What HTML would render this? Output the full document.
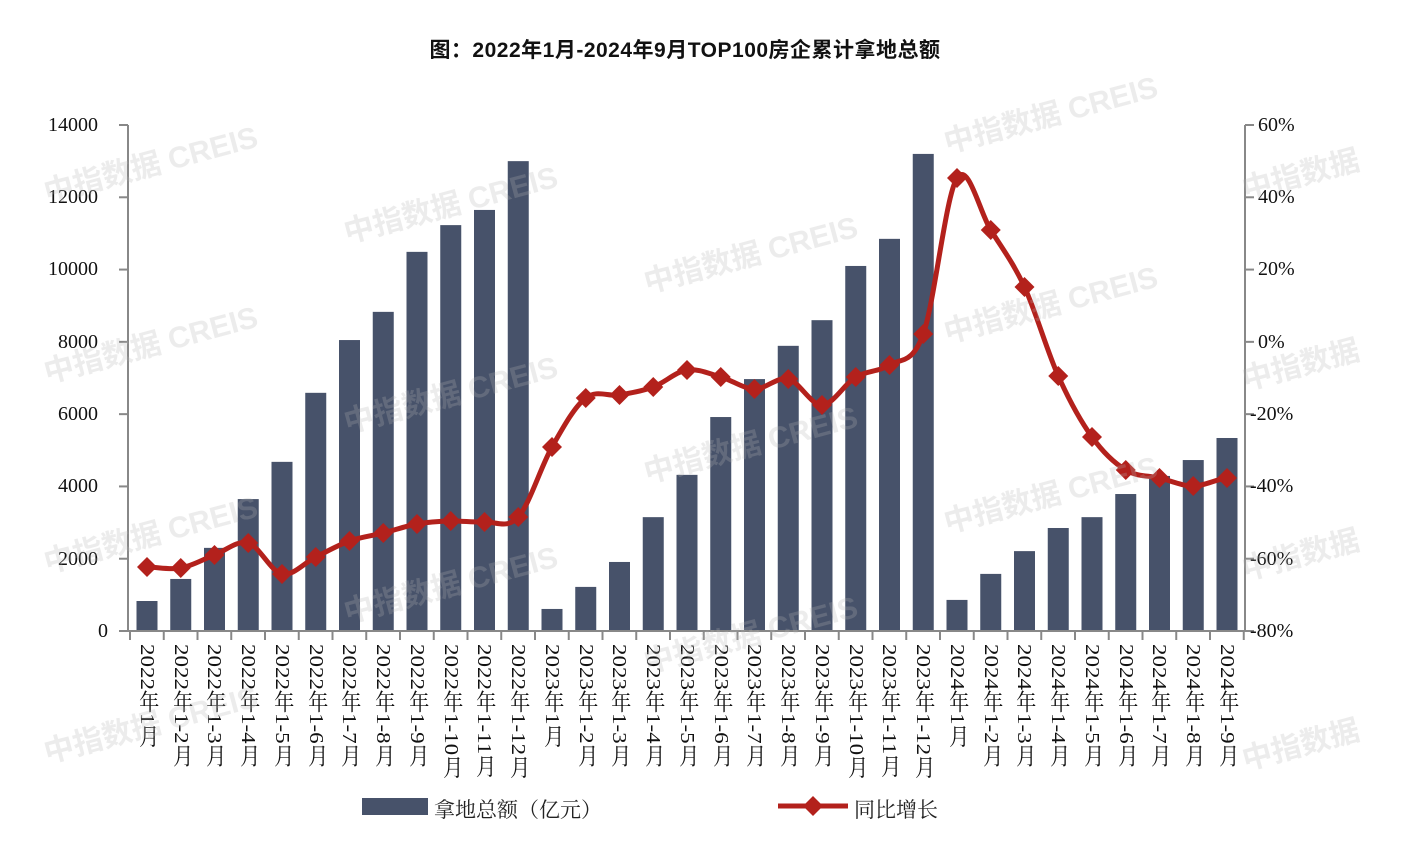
<!DOCTYPE html>
<html><head><meta charset="utf-8"><style>
body{margin:0;background:#fff;width:1418px;height:842px;position:relative;overflow:hidden;font-family:"Liberation Serif","Noto Serif CJK SC",serif}
.t{position:absolute;top:34px;left:0;width:1370px;text-align:center;font:bold 21px "Liberation Sans","Noto Sans CJK SC",sans-serif;color:#111;letter-spacing:0.5px}
.xl{position:absolute;top:644px;writing-mode:vertical-rl;font-size:23px;line-height:22px;color:#111;width:22px;transform:scaleX(0.88);transform-origin:center top;white-space:nowrap}
.yl{position:absolute;font-size:20px;color:#111;line-height:20px}
.wm{position:absolute;font:bold 30px "Liberation Sans","Noto Sans CJK SC",sans-serif;color:rgba(180,180,180,0.25);transform:rotate(-15deg);white-space:nowrap}
.lg{position:absolute;top:794px;font-size:21px;font-family:"Liberation Serif","Noto Serif CJK SC",serif;color:#222}
</style></head><body>
<div class="t">图：2022年1月-2024年9月TOP100房企累计拿地总额</div>
<svg id="s" width="1418" height="842" style="position:absolute;left:0;top:0"></svg>
<div class="yl" style="left:48px;top:115px">14000</div>
<div class="yl" style="left:48px;top:187px">12000</div>
<div class="yl" style="left:48px;top:259px">10000</div>
<div class="yl" style="left:58px;top:332px">8000</div>
<div class="yl" style="left:58px;top:404px">6000</div>
<div class="yl" style="left:58px;top:476px">4000</div>
<div class="yl" style="left:58px;top:549px">2000</div>
<div class="yl" style="left:98px;top:621px">0</div>
<div class="yl" style="left:1258px;top:115px">60%</div>
<div class="yl" style="left:1258px;top:187px">40%</div>
<div class="yl" style="left:1258px;top:259px">20%</div>
<div class="yl" style="left:1258px;top:332px">0%</div>
<div class="yl" style="left:1250px;top:404px">-20%</div>
<div class="yl" style="left:1250px;top:476px">-40%</div>
<div class="yl" style="left:1250px;top:549px">-60%</div>
<div class="yl" style="left:1250px;top:621px">-80%</div>
<div class="xl" style="left:136px">2022年1月</div>
<div class="xl" style="left:170px">2022年1-2月</div>
<div class="xl" style="left:203px">2022年1-3月</div>
<div class="xl" style="left:237px">2022年1-4月</div>
<div class="xl" style="left:271px">2022年1-5月</div>
<div class="xl" style="left:305px">2022年1-6月</div>
<div class="xl" style="left:338px">2022年1-7月</div>
<div class="xl" style="left:372px">2022年1-8月</div>
<div class="xl" style="left:406px">2022年1-9月</div>
<div class="xl" style="left:440px">2022年1-10月</div>
<div class="xl" style="left:473px">2022年1-11月</div>
<div class="xl" style="left:507px">2022年1-12月</div>
<div class="xl" style="left:541px">2023年1月</div>
<div class="xl" style="left:575px">2023年1-2月</div>
<div class="xl" style="left:608px">2023年1-3月</div>
<div class="xl" style="left:642px">2023年1-4月</div>
<div class="xl" style="left:676px">2023年1-5月</div>
<div class="xl" style="left:710px">2023年1-6月</div>
<div class="xl" style="left:743px">2023年1-7月</div>
<div class="xl" style="left:777px">2023年1-8月</div>
<div class="xl" style="left:811px">2023年1-9月</div>
<div class="xl" style="left:845px">2023年1-10月</div>
<div class="xl" style="left:878px">2023年1-11月</div>
<div class="xl" style="left:912px">2023年1-12月</div>
<div class="xl" style="left:946px">2024年1月</div>
<div class="xl" style="left:980px">2024年1-2月</div>
<div class="xl" style="left:1013px">2024年1-3月</div>
<div class="xl" style="left:1047px">2024年1-4月</div>
<div class="xl" style="left:1081px">2024年1-5月</div>
<div class="xl" style="left:1115px">2024年1-6月</div>
<div class="xl" style="left:1148px">2024年1-7月</div>
<div class="xl" style="left:1182px">2024年1-8月</div>
<div class="xl" style="left:1216px">2024年1-9月</div>
<div class="lg" style="left:434px">拿地总额（亿元）</div>
<div class="lg" style="left:854px">同比增长</div>
<div class="wm" style="left:40px;top:140px">中指数据 CREIS</div>
<div class="wm" style="left:340px;top:180px">中指数据 CREIS</div>
<div class="wm" style="left:640px;top:230px">中指数据 CREIS</div>
<div class="wm" style="left:940px;top:90px">中指数据 CREIS</div>
<div class="wm" style="left:40px;top:320px">中指数据 CREIS</div>
<div class="wm" style="left:340px;top:370px">中指数据 CREIS</div>
<div class="wm" style="left:640px;top:420px">中指数据 CREIS</div>
<div class="wm" style="left:940px;top:280px">中指数据 CREIS</div>
<div class="wm" style="left:40px;top:510px">中指数据 CREIS</div>
<div class="wm" style="left:340px;top:560px">中指数据 CREIS</div>
<div class="wm" style="left:640px;top:610px">中指数据 CREIS</div>
<div class="wm" style="left:940px;top:470px">中指数据 CREIS</div>
<div class="wm" style="left:40px;top:700px">中指数据 CREIS</div>
<div class="wm" style="left:1240px;top:150px">中指数据</div>
<div class="wm" style="left:1240px;top:340px">中指数据</div>
<div class="wm" style="left:1240px;top:530px">中指数据</div>
<div class="wm" style="left:1240px;top:720px">中指数据</div>
<script>
var s=document.getElementById('s'),h='';
var v=[830,1440,2300,3650,4680,6590,8050,8830,10490,11230,11650,13000,610,1220,1910,3150,4320,5920,6970,7890,8600,10100,10850,13200,860,1580,2210,2850,3150,3790,4290,4730,5340];
var ly=[567,568,555,543,574,557,541,533,524,521,522,517,447,398,395,387,370,377,389,379,405,377,365,334,178,230,287,376,437,470,478,486,478];
var sc=506/14000,c='#47526a';
for(var i=0;i<33;i++){var x=147+33.75*i,y=631-v[i]*sc;h+='<rect x="'+(x-10.5)+'" y="'+y+'" width="21" height="'+(631-y)+'" fill="'+c+'"/>';}
h+='<line x1="128" y1="125" x2="128" y2="632" stroke="#888" stroke-width="2"/>';
h+='<line x1="1245" y1="125" x2="1245" y2="632" stroke="#888" stroke-width="2"/>';
h+='<line x1="127" y1="631" x2="1246" y2="631" stroke="#888" stroke-width="2"/>';
for(var k=0;k<8;k++){var y=125+k*506/7;h+='<line x1="119" y1="'+y+'" x2="128" y2="'+y+'" stroke="#888" stroke-width="2"/><line x1="1245" y1="'+y+'" x2="1254" y2="'+y+'" stroke="#888" stroke-width="2"/>';}
for(var i=0;i<=33;i++){var x=130+33.75*i;h+='<line x1="'+x+'" y1="631" x2="'+x+'" y2="640" stroke="#888" stroke-width="2"/>';}
var p='M147,'+ly[0];
for(var i=0;i<32;i++){var x0=147+33.75*i,x1=x0+33.75,pm=ly[Math.max(i-1,0)],nx=ly[Math.min(i+2,32)];
var c1=ly[i]+(ly[i+1]-pm)/6,c2=ly[i+1]-(nx-ly[i])/6;p+=' C'+(x0+11.25)+','+c1+' '+(x1-11.25)+','+c2+' '+x1+','+ly[i+1];}
h+='<path d="'+p+'" fill="none" stroke="#b3211c" stroke-width="5"/>';
for(var i=0;i<33;i++){var x=147+33.75*i,y=ly[i];h+='<path d="M'+x+','+(y-10)+' L'+(x+10)+','+y+' L'+x+','+(y+10)+' L'+(x-10)+','+y+'Z" fill="#b3211c"/>';}
h+='<rect x="362" y="798" width="66" height="17" fill="'+c+'"/>';
h+='<line x1="778" y1="806" x2="848" y2="806" stroke="#b3211c" stroke-width="5"/><path d="M813,796 L823,806 L813,816 L803,806Z" fill="#b3211c"/>';
s.innerHTML=h;
</script>
</body></html>
